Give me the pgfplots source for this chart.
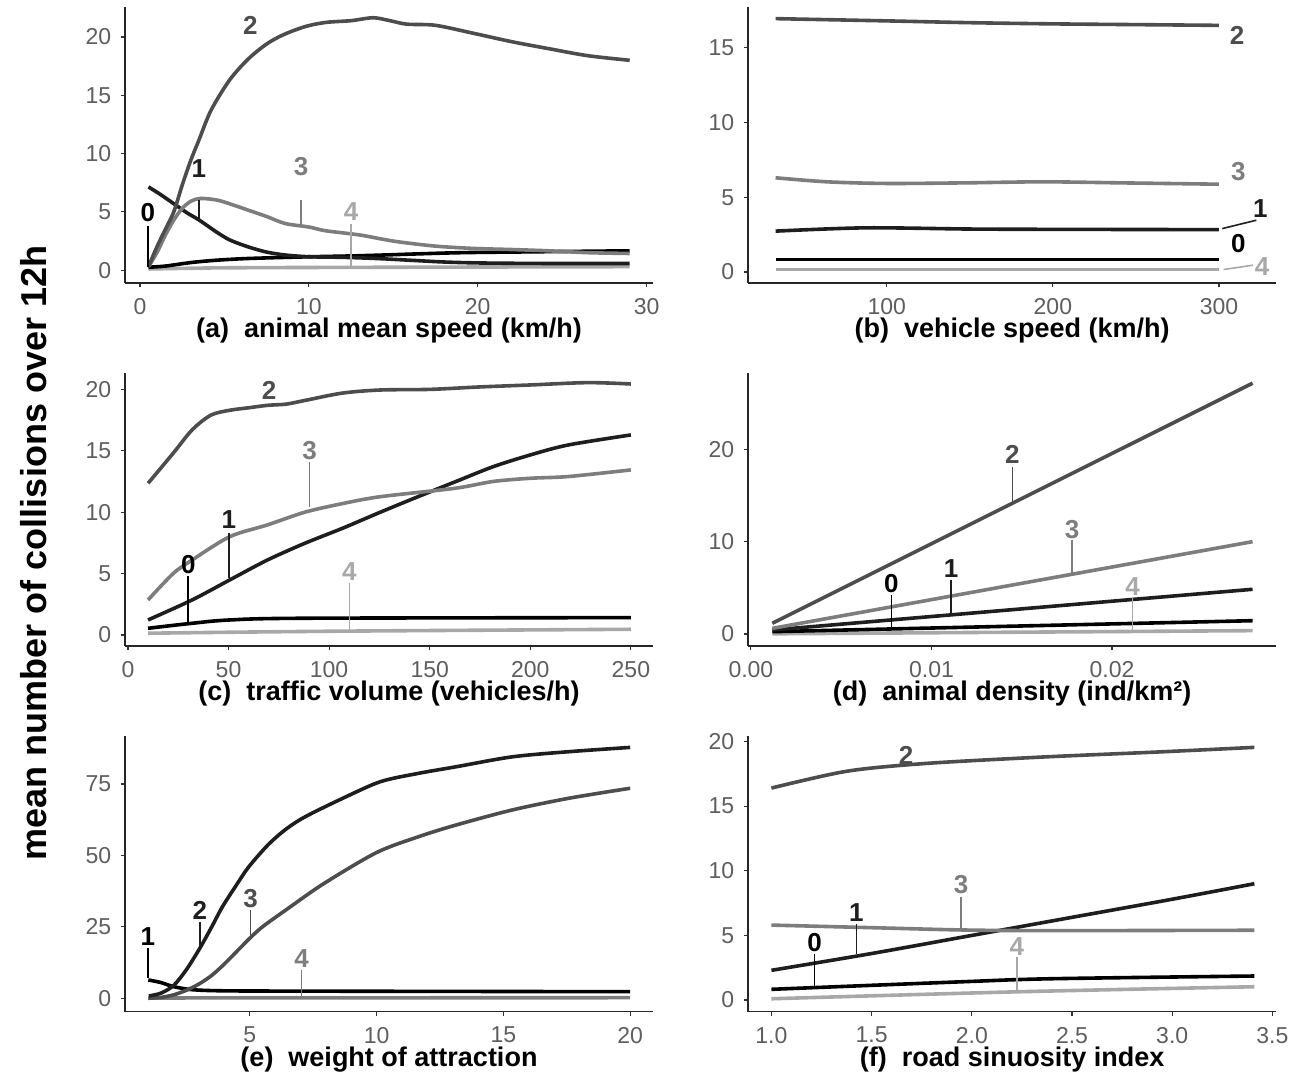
\documentclass[border=0pt]{standalone}
\usepackage{fontspec}
\setmainfont{Liberation Sans}
\usepackage{pgfplots}
\pgfplotsset{compat=1.18}
\definecolor{cz}{HTML}{000000}
\definecolor{co}{HTML}{1E1E1E}
\definecolor{ct}{HTML}{4D4D4D}
\definecolor{cth}{HTML}{7D7D7D}
\definecolor{cf}{HTML}{A8A8A8}
\definecolor{ticklab}{HTML}{5E5E5E}
\pgfplotsset{
  panel/.style={
    scale only axis, anchor=south west,
    axis lines*=left, axis line style={line width=0.7pt, black!85, -},
    tick align=outside, major tick length=2.2pt,
    every tick/.style={line width=0.6pt, black!80},
    tick label style={font=\fontsize{11.5}{13}\selectfont, text=ticklab, inner sep=0pt},
    xticklabel style={anchor=north, yshift=-5.3pt},
    yticklabel style={anchor=east, xshift=-4.5pt},
    /pgf/number format/assume math mode=true,
    scaled x ticks=false, scaled y ticks=false,
    xlabel style={font=\bfseries\fontsize{13.5}{15}\selectfont, at={(axis description cs:0.5,0)}, anchor=center, yshift=-24pt},
    clip=false,
  },
  curve/.style={line width=1.8pt, smooth, tension=0.5},
  lead/.style={line width=0.8pt},
}
\newcommand{\lab}[4]{\node[font=\bfseries\fontsize{13}{15}\selectfont, text=#1] at (axis cs:#2,#3) {#4};}
\begin{document}
\begin{tikzpicture}
\useasboundingbox (0,0) rectangle (651.5pt,540pt);
\node[rotate=90, font=\bfseries\fontsize{18}{20}\selectfont] at (16.75pt,263.5pt) {mean number of collisions over 12h};

% (a)
\begin{axis}[panel, at={(62.5pt,398.5pt)}, width=264pt, height=138.15pt,
  xmin=-0.89, xmax=30.38, ymin=-1.1, ymax=22.6,
  xtick={0,10,20,30}, ytick={0,5,10,15,20},
  xlabel={(a)\ \ animal mean speed (km/h)}]
\addplot[curve, cf] coordinates {(0.5,0.1)(5,0.2)(15,0.25)(29,0.3)};
\addplot[curve, cz] coordinates {(0.5,0.25)(1.5,0.35)(3,0.65)(4.5,0.85)(6.4,1.0)(9.8,1.14)(12.5,1.22)(14.2,1.29)(18.7,1.49)(23.1,1.57)(29,1.66)};
\addplot[curve, co] coordinates {(0.5,7.14)(1.2,6.5)(2.0,5.7)(2.8,4.9)(3.5,4.3)(4.5,3.3)(5.3,2.6)(6.4,2.0)(7.5,1.55)(8.6,1.3)(10,1.15)(12,1.1)(14,1.0)(16,0.85)(18,0.7)(20,0.62)(23,0.58)(26,0.57)(29,0.57)};
\addplot[curve, cth] coordinates {(0.5,0.3)(1.0,1.5)(1.5,3.0)(2.0,4.3)(2.5,5.3)(3.0,5.9)(3.6,6.15)(4.6,6.0)(5.5,5.6)(6.4,5.15)(7.5,4.6)(8.6,4.0)(10.0,3.7)(10.9,3.4)(12,3.2)(13.1,3.0)(14.2,2.7)(15.3,2.43)(17.5,2.06)(19.8,1.86)(22,1.77)(24.2,1.66)(26.5,1.5)(29,1.43)};
\addplot[curve, ct] coordinates {(0.5,0.3)(1,2.0)(1.5,3.5)(2,5.0)(2.5,7.3)(3,9.4)(3.5,11.2)(4.2,13.7)(5.3,16.3)(6.4,18.1)(7.5,19.4)(8.5,20.2)(9.8,20.9)(11,21.25)(12.5,21.4)(13.8,21.65)(14.8,21.4)(15.8,21.1)(17.5,21.0)(19.8,20.3)(22,19.6)(24.2,19.0)(26.5,18.4)(29,18.0)};
\addplot[lead, cz] coordinates {(0.47,3.8)(0.47,0.3)};
\addplot[lead, co] coordinates {(3.48,6.0)(3.48,4.4)};
\addplot[lead, cth] coordinates {(9.54,6.0)(9.54,3.9)};
\addplot[lead, cf] coordinates {(12.5,4.0)(12.5,0.3)};
\lab{cz}{0.47}{4.9}{0}
\lab{co}{3.48}{8.7}{1}
\lab{ct}{6.53}{21.0}{2}
\lab{cth}{9.54}{8.85}{3}
\lab{cf}{12.5}{5.0}{4}
\end{axis}

% (b)
\begin{axis}[panel, at={(374pt,398.5pt)}, width=264.2pt, height=138.15pt,
  xmin=16.4, xmax=334.6, ymin=-0.74, ymax=17.75,
  xtick={100,200,300}, ytick={0,5,10,15},
  xlabel={(b)\ \ vehicle speed (km/h)}]
\addplot[curve, cf] coordinates {(33,0.16)(300,0.16)};
\addplot[curve, cz] coordinates {(33,0.83)(300,0.83)};
\addplot[curve, co] coordinates {(33,2.73)(87,2.95)(150,2.87)(200,2.85)(300,2.83)};
\addplot[curve, cth] coordinates {(33,6.3)(64,6.03)(100,5.92)(147,5.96)(194,6.03)(241,5.96)(300,5.87)};
\addplot[curve, ct] coordinates {(33,16.95)(100,16.8)(150,16.68)(200,16.6)(250,16.55)(300,16.5)};
\addplot[lead, co] coordinates {(302,2.9)(322.5,3.46)};
\addplot[lead, cf] coordinates {(302.8,0.16)(320.4,0.45)};
\lab{ct}{311}{15.85}{2}
\lab{cth}{311.7}{6.7}{3}
\lab{co}{325}{4.25}{1}
\lab{cz}{311.7}{1.9}{0}
\lab{cf}{326}{0.33}{4}
\end{axis}

% (c)
\begin{axis}[panel, at={(62.5pt,217pt)}, width=264pt, height=136.65pt,
  xmin=-1.46, xmax=261, ymin=-0.9, ymax=21.36,
  xtick={0,50,100,150,200,250}, ytick={0,5,10,15,20},
  xlabel={(c)\ \ traffic volume (vehicles/h)}]
\addplot[curve, cf] coordinates {(10,0.14)(100,0.3)(250,0.46)};
\addplot[curve, cz] coordinates {(10,0.54)(31.9,0.95)(50.6,1.22)(88,1.36)(250,1.41)};
\addplot[curve, co] coordinates {(10,1.22)(31.9,2.85)(50.6,4.48)(69.3,6.1)(88,7.47)(106.7,8.69)(125.5,10.0)(144.2,11.26)(162.8,12.48)(181.5,13.7)(200,14.66)(218.8,15.47)(250,16.29)};
\addplot[curve, cth] coordinates {(10,2.85)(22.5,5.0)(31.9,6.1)(50.6,8.0)(69.3,8.96)(88,10.0)(106.7,10.7)(125.5,11.26)(162.8,11.95)(181.5,12.5)(200,12.76)(218.8,12.9)(250,13.44)};
\addplot[curve, ct] coordinates {(10,12.35)(22.5,14.8)(31.9,16.7)(41.2,17.9)(50.6,18.3)(60,18.5)(69.3,18.7)(78.7,18.8)(88,19.1)(106.7,19.7)(125.5,19.95)(150,20.0)(175,20.2)(200,20.36)(228.5,20.55)(250,20.44)};
\addplot[lead, cz] coordinates {(30,4.8)(30,0.95)};
\addplot[lead, co] coordinates {(50.2,8.28)(50.2,4.6)};
\addplot[lead, cth] coordinates {(90.3,14.1)(90.3,10.45)};
\addplot[lead, cf] coordinates {(110.1,4.2)(110.1,0.4)};
\lab{cz}{30}{5.7}{0}
\lab{co}{50.2}{9.36}{1}
\lab{ct}{70.2}{19.9}{2}
\lab{cth}{90.3}{15.0}{3}
\lab{cf}{110.1}{5.15}{4}
\end{axis}

% (d)
\begin{axis}[panel, at={(374pt,217pt)}, width=264.2pt, height=136.65pt,
  xmin=-0.00016, xmax=0.0291, ymin=-1.3, ymax=28.3,
  xtick={0,0.01,0.02}, xticklabels={0.00,0.01,0.02}, ytick={0,10,20},
  xlabel={(d)\ \ animal density (ind/km²)}]
\addplot[curve, cf] coordinates {(0.00119,0.02)(0.02778,0.36)};
\addplot[curve, cz] coordinates {(0.00119,0.25)(0.02778,1.44)};
\addplot[curve, co] coordinates {(0.00119,0.43)(0.02778,4.84)};
\addplot[curve, cth] coordinates {(0.00119,0.61)(0.02778,10.0)};
\addplot[curve, ct] coordinates {(0.00119,1.16)(0.02778,27.16)};
\addplot[lead, cz] coordinates {(0.00778,4.2)(0.00778,0.6)};
\addplot[lead, co] coordinates {(0.01109,5.85)(0.01109,2.06)};
\addplot[lead, ct] coordinates {(0.01448,18.1)(0.01448,14.3)};
\addplot[lead, cth] coordinates {(0.01779,10.2)(0.01779,6.4)};
\addplot[lead, cf] coordinates {(0.02114,4.0)(0.02114,0.36)};
\lab{cz}{0.00778}{5.42}{0}
\lab{co}{0.01109}{7.1}{1}
\lab{ct}{0.01448}{19.4}{2}
\lab{cth}{0.01779}{11.3}{3}
\lab{cf}{0.02114}{5.1}{4}
\end{axis}

% (e)
\begin{axis}[panel, at={(62.5pt,34.15pt)}, width=264pt, height=137.85pt,
  xmin=0.08, xmax=20.9, ymin=-4.7, ymax=91.8,
  xtick={5,10,15,20}, ytick={0,25,50,75},
  xlabel={(e)\ \ weight of attraction}]
\addplot[curve, cth] coordinates {(1,0.1)(10,0.15)(20,0.2)};
\addplot[curve, cz] coordinates {(1,6.4)(1.5,5.5)(1.98,4.1)(2.73,3.0)(4,2.6)(7,2.5)(13,2.4)(20,2.3)};
\addplot[curve, ct] coordinates {(1.0,0.0)(1.5,0.3)(2.0,1.2)(2.5,2.8)(3,5)(3.5,8)(4,12)(4.5,16.5)(5,21)(5.5,25)(6.44,31)(7.93,40.2)(10,51.0)(11.64,56.5)(13.12,60.6)(15.35,65.9)(17.58,70.0)(20,73.5)};
\addplot[curve, co] coordinates {(1.02,0.8)(1.5,1.8)(2.0,4.5)(2.5,10)(3.03,17.5)(3.5,25)(3.92,32)(4.5,40)(4.96,46)(5.7,53.5)(6.4,59)(7.18,63.5)(8.67,70.0)(10.15,75.8)(11.64,78.7)(13.12,81.0)(15.35,84.5)(17.58,86.3)(20,87.8)};
\addplot[lead, cz] coordinates {(0.98,17.5)(0.98,7.0)};
\addplot[lead, co] coordinates {(3.03,26.8)(3.03,17.5)};
\addplot[lead, ct] coordinates {(5.03,30.9)(5.03,21.2)};
\addplot[lead, cth] coordinates {(7.04,9.9)(7.04,0.6)};
\lab{cz}{0.98}{21.6}{1}
\lab{co}{3.03}{30.9}{2}
\lab{ct}{5.03}{35.0}{3}
\lab{cth}{7.04}{14.0}{4}
\end{axis}

% (f)
\begin{axis}[panel, at={(374pt,34.15pt)}, width=264.2pt, height=137.85pt,
  xmin=0.883, xmax=3.52, ymin=-0.9, ymax=20.43,
  xtick={1,1.5,2,2.5,3,3.5}, xticklabels={1.0,1.5,2.0,2.5,3.0,3.5}, ytick={0,5,10,15,20},
  xlabel={(f)\ \ road sinuosity index}]
\addplot[curve, cf] coordinates {(1.0,0.1)(2.23,0.64)(3.41,1.03)};
\addplot[curve, cz] coordinates {(1.0,0.83)(1.96,1.42)(2.4,1.65)(3.41,1.86)};
\addplot[curve, co] coordinates {(1,2.3)(1.5,3.6)(2,5.0)(2.5,6.4)(3,7.8)(3.41,9.0)};
\addplot[curve, cth] coordinates {(1.0,5.8)(1.5,5.6)(1.96,5.42)(2.4,5.37)(3.41,5.4)};
\addplot[curve, ct] coordinates {(1.0,16.4)(1.375,17.7)(1.766,18.3)(2.35,18.8)(2.94,19.2)(3.41,19.55)};
\addplot[lead, cz] coordinates {(1.215,3.6)(1.215,1.03)};
\addplot[lead, co] coordinates {(1.424,5.88)(1.424,3.6)};
\addplot[lead, cth] coordinates {(1.946,8.0)(1.946,5.5)};
\addplot[lead, cf] coordinates {(2.225,3.3)(2.225,0.7)};
\lab{cz}{1.215}{4.44}{0}
\lab{co}{1.424}{6.76}{1}
\lab{ct}{1.672}{18.96}{2}
\lab{cth}{1.946}{8.9}{3}
\lab{cf}{2.225}{4.13}{4}
\end{axis}
\end{tikzpicture}
\end{document}
